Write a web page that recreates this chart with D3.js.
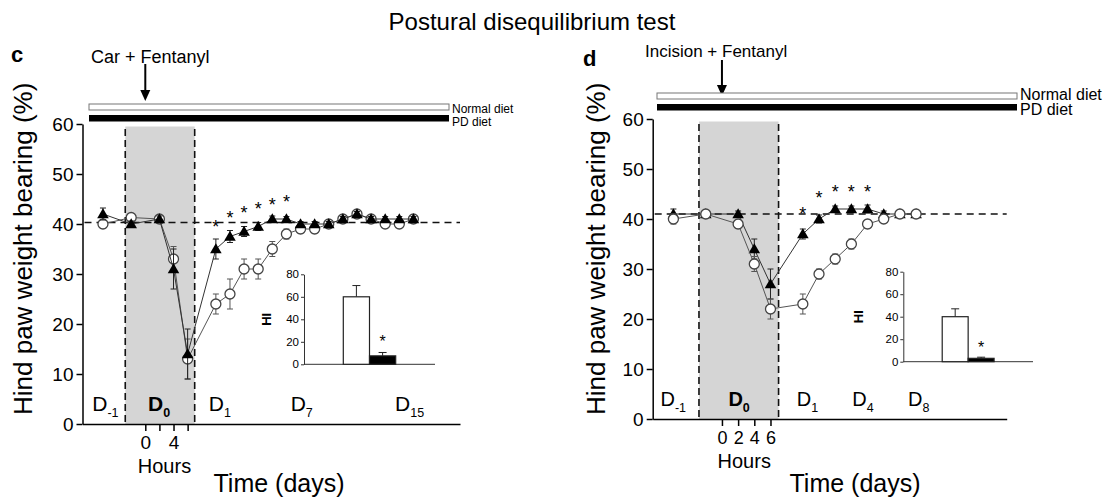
<!DOCTYPE html>
<meta charset="utf-8">
<head>
<script src="https://d3js.org/d3.v7.min.js"></script>
<style>
body { margin: 0; background: #fff; }
text { font-family: "Liberation Sans", Arial, sans-serif; }
</style>
</head>
<body>
<script>
// x positions are in 2-hour steps: D-1 = -3, pre-op = -1, hours 0..6 = 0..3, then days = 5, 6, ...
const hourTicks = [0, 1, 2, 3];

// panel c : Car + Fentanyl
const posC = [-3, -1, 1, 2, 3, 5, 6, 7, 8, 9, 10, 11, 12, 13, 14, 15, 16, 17, 18, 19];
const normalC = [40, 41.3, 41, 33, 13, 24, 26, 31, 31, 35, 38, 39, 39, 40, 41, 42, 41, 40, 40, 41];
const normalErrC = [0.8, 0.8, 0.5, 2.5, 4, 2, 3, 2, 2, 1.5, 1, 0.8, 0.8, 0.5, 0.5, 0.6, 0.5, 0.5, 0.5, 0.5];
const pdC = [42, 40, 41, 31, 14, 35, 37.5, 38.5, 39.5, 41, 41, 40, 40, 40, 41, 42, 41, 41, 41, 41];
const pdErrC = [1.2, 0.6, 0.6, 4, 5, 2, 1.2, 1, 0.8, 0.6, 0.5, 0.5, 0.5, 0.5, 0.5, 0.5, 0.5, 0.5, 0.5, 0.5];
const starPosC = [5, 6, 7, 8, 9, 10];
const starValC = [40.3, 42.1, 43, 43.8, 44.7, 45.3];
const dayLabelsC = ["-1", "0", "1", "7", "15"];
const dayPosC = [-3.76, 0.2, 4.5, 10.3, 17.7];
const hourLabelsC = ["0", "", "4", ""];
const refC = 40.3;
const hiC = [60, 7.5];
const hiErrC = [10, 3];
const hiStarC = 23;

// panel d : Incision + Fentanyl
const posD = [-3, -1, 1, 2, 3, 5, 6, 7, 8, 9, 10, 11, 12];
const normalD = [40, 41, 39, 31, 22, 23, 29, 32, 35, 39, 40, 41, 41];
const normalErrD = [1, 0.6, 0.8, 1.5, 2, 2, 1, 1, 1, 0.8, 0.6, 0.5, 0.5];
const pdD = [41, 41, 41, 34, 27, 37, 40, 42, 42, 42, 41, 41, 41];
const pdErrD = [1, 0.5, 0.6, 2, 3, 1, 0.8, 0.6, 0.6, 0.8, 0.6, 0.5, 0.5];
const starPosD = [5, 6, 7, 8, 9];
const starValD = [41.9, 45, 46.3, 46.3, 46.3];
const dayLabelsD = ["-1", "0", "1", "4", "8"];
const dayPosD = [-3.8, 0.4, 4.63, 8.06, 11.5];
const hourLabelsD = ["0", "2", "4", "6"];
const refD = 41;
const hiD = [40, 3];
const hiErrD = [7, 1];
const hiStarD = 16;

const yTicks = [0, 10, 20, 30, 40, 50, 60];
const hiTicks = [0, 20, 40, 60, 80];
const shade = [-1.42, 3.5];

const svg = d3.select("body").append("svg")
  .attr("width", 1109).attr("height", 500);

svg.append("text")
  .attr("x", 532).attr("y", 30)
  .attr("text-anchor", "middle")
  .attr("font-size", 24)
  .text("Postural disequilibrium test");

function drawPanel(p) {
  const g = svg.append("g");
  const x = d3.scaleLinear().domain(p.xDomain).range([p.left, p.right]);
  const y = d3.scaleLinear().domain([0, 60]).range([p.bottom, p.top]);

  // panel letter + treatment label + arrow
  g.append("text").attr("x", p.letterX).attr("y", p.letterY)
    .attr("font-size", 22).attr("font-weight", "bold").text(p.letter);
  g.append("text").attr("x", p.labelX).attr("y", p.labelY)
    .attr("font-size", p.labelSize).text(p.label);
  g.append("line")
    .attr("x1", x(0)).attr("x2", x(0))
    .attr("y1", p.arrowTop).attr("y2", p.arrowBottom - 8)
    .attr("stroke", "#000").attr("stroke-width", 2);
  g.append("path")
    .attr("d", `M${x(0) - 5},${p.arrowBottom - 11}L${x(0) + 5},${p.arrowBottom - 11}L${x(0)},${p.arrowBottom}Z`)
    .attr("fill", "#000");

  // diet bars
  g.append("rect").attr("x", p.barX0).attr("y", p.barY)
    .attr("width", p.barX1 - p.barX0).attr("height", 6)
    .attr("fill", "#fff").attr("stroke", "#777").attr("stroke-width", 1);
  g.append("rect").attr("x", p.barX0).attr("y", p.barY + 11)
    .attr("width", p.barX1 - p.barX0).attr("height", 6.5)
    .attr("fill", "#000");
  g.append("text").attr("x", p.barX1 + 3).attr("y", p.barY + p.dietDy[0])
    .attr("font-size", p.dietSize).text("Normal diet");
  g.append("text").attr("x", p.barX1 + 3).attr("y", p.barY + p.dietDy[1])
    .attr("font-size", p.dietSize).text("PD diet");

  // shaded D0
  g.append("rect")
    .attr("x", x(shade[0])).attr("y", y(59.5))
    .attr("width", x(shade[1]) - x(shade[0]))
    .attr("height", y(0) - y(59.5))
    .attr("fill", "#d5d5d5");
  shade.forEach(s => g.append("line")
    .attr("x1", x(s)).attr("x2", x(s))
    .attr("y1", y(59)).attr("y2", y(0))
    .attr("stroke", "#111").attr("stroke-width", 1.6)
    .attr("stroke-dasharray", "7,4"));

  // baseline reference
  g.append("line")
    .attr("x1", p.left + 2).attr("x2", p.right)
    .attr("y1", y(p.ref)).attr("y2", y(p.ref))
    .attr("stroke", "#111").attr("stroke-width", 1.3)
    .attr("stroke-dasharray", "7,5");

  // axes
  const ya = g.append("g")
    .attr("transform", `translate(${p.left},0)`)
    .call(d3.axisLeft(y).tickValues(yTicks).tickSize(6).tickSizeOuter(0).tickPadding(3));
  ya.attr("font-family", null).attr("font-size", 19);
  ya.selectAll("path,line").attr("stroke-width", 1.5);

  const xa = g.append("g")
    .attr("transform", `translate(0,${p.bottom})`)
    .call(d3.axisBottom(x).tickValues(hourTicks).tickSize(7).tickSizeOuter(0).tickPadding(5)
      .tickFormat((d, i) => p.hourLabels[i]));
  xa.attr("font-family", null).attr("font-size", p.hourSize);
  xa.selectAll("path,line").attr("stroke-width", 1.5);

  g.append("text").attr("x", x(1.5) - 2).attr("y", p.bottom + 49)
    .attr("text-anchor", "middle").attr("font-size", 20).text("Hours");
  g.append("text").attr("x", p.timeX).attr("y", 492)
    .attr("text-anchor", "middle").attr("font-size", 25).text("Time (days)");
  g.append("text")
    .attr("transform", `translate(${p.yTitleX},${p.yTitleY}) rotate(-90)`)
    .attr("font-size", 26).text("Hind paw weight bearing (%)");

  // day labels
  p.dayLabels.forEach((d, i) => {
    const t = g.append("text").attr("x", x(p.dayPos[i])).attr("y", p.bottom - 13)
      .attr("font-size", p.dSize).attr("font-weight", d === "0" ? "bold" : null);
    t.append("tspan").text("D");
    t.append("tspan").attr("dy", 6).attr("font-size", 12.5).text(d);
  });

  // series
  const norm = p.pos.map((v, i) => ({pos: v, v: p.normal[i], e: p.normalErr[i]}));
  const pd = p.pos.map((v, i) => ({pos: v, v: p.pd[i], e: p.pdErr[i]}));
  const line = d3.line().x(d => x(d.pos)).y(d => y(d.v));

  function errBars(data, color) {
    const eg = g.append("g").attr("stroke", color).attr("stroke-width", 1);
    eg.append("g").selectAll("line").data(data).join("line")
      .attr("x1", d => x(d.pos)).attr("x2", d => x(d.pos))
      .attr("y1", d => y(d.v - d.e)).attr("y2", d => y(d.v + d.e));
    eg.append("g").selectAll("line").data(data).join("line")
      .attr("x1", d => x(d.pos) - 3).attr("x2", d => x(d.pos) + 3)
      .attr("y1", d => y(d.v + d.e)).attr("y2", d => y(d.v + d.e));
    eg.append("g").selectAll("line").data(data).join("line")
      .attr("x1", d => x(d.pos) - 3).attr("x2", d => x(d.pos) + 3)
      .attr("y1", d => y(d.v - d.e)).attr("y2", d => y(d.v - d.e));
  }
  function drawNormal() {
    errBars(norm, "#555");
    g.append("path").datum(norm).attr("d", line)
      .attr("fill", "none").attr("stroke", "#555").attr("stroke-width", 1);
    g.append("g").selectAll("circle").data(norm).join("circle")
      .attr("cx", d => x(d.pos)).attr("cy", d => y(d.v)).attr("r", 5)
      .attr("fill", "#fff").attr("stroke", "#444").attr("stroke-width", 1.3);
  }
  function drawPd() {
    errBars(pd, "#222");
    g.append("path").datum(pd).attr("d", line)
      .attr("fill", "none").attr("stroke", "#333").attr("stroke-width", 1);
    g.append("g").selectAll("path").data(pd).join("path")
      .attr("transform", d => `translate(${x(d.pos)},${y(d.v) + 1})`)
      .attr("d", d3.symbol().type(d3.symbolTriangle).size(58))
      .attr("fill", "#000");
  }
  if (p.circlesOnTop) { drawPd(); drawNormal(); } else { drawNormal(); drawPd(); }

  // significance stars
  g.append("g").selectAll("text").data(p.starPos).join("text")
    .attr("x", d => x(d)).attr("y", (d, i) => y(p.starVal[i]) + 10)
    .attr("text-anchor", "middle").attr("font-size", 18).text("*");

  // inset HI bar chart
  const ix = d3.scaleLinear().domain([0, 5]).range([p.inLeft, p.inRight]);
  const iy = d3.scaleLinear().domain([0, 80]).range([p.inBottom, p.inBottom - 90]);
  const ia = g.append("g")
    .attr("transform", `translate(${p.inLeft},0)`)
    .call(d3.axisLeft(iy).tickValues(hiTicks).tickSize(3).tickSizeOuter(0).tickPadding(2));
  ia.attr("font-family", null).attr("font-size", 11.5);
  ia.selectAll("path,line").attr("stroke", "#333");
  g.append("line").attr("x1", p.inLeft).attr("x2", p.inRight)
    .attr("y1", iy(0)).attr("y2", iy(0)).attr("stroke", "#333");
  p.hi.forEach((v, i) => {
    const x0 = ix(1.5 + i), x1 = ix(2.5 + i), xc = (x0 + x1) / 2;
    g.append("line").attr("x1", xc).attr("x2", xc)
      .attr("y1", iy(v)).attr("y2", iy(v + p.hiErr[i])).attr("stroke", "#222");
    g.append("line").attr("x1", xc - 4).attr("x2", xc + 4)
      .attr("y1", iy(v + p.hiErr[i])).attr("y2", iy(v + p.hiErr[i])).attr("stroke", "#222");
    g.append("rect").attr("x", x0).attr("y", iy(v))
      .attr("width", x1 - x0).attr("height", iy(0) - iy(v))
      .attr("fill", i === 0 ? "#fff" : "#000").attr("stroke", "#222").attr("stroke-width", 1.2);
  });
  g.append("text").attr("x", ix(3)).attr("y", iy(p.hiStar) + 9)
    .attr("text-anchor", "middle").attr("font-size", 16).text("*");
  g.append("text")
    .attr("transform", `translate(${p.hiX},${iy(40)}) rotate(-90)`)
    .attr("text-anchor", "middle").attr("font-size", 13).attr("font-weight", "bold")
    .text("HI");
}

drawPanel({
  letter: "c", letterX: 11, letterY: 62,
  label: "Car + Fentanyl", labelX: 91, labelY: 63, labelSize: 18,
  arrowTop: 64, arrowBottom: 101,
  barX0: 89, barX1: 449, barY: 104, dietDy: [8.5, 22], dietSize: 12,
  left: 82.5, right: 460, top: 124, bottom: 424, xDomain: [-4.45, 22.3],
  ref: refC, hourLabels: hourLabelsC, hourSize: 19,
  timeX: 279, yTitleX: 32, yTitleY: 415,
  dayLabels: dayLabelsC, dayPos: dayPosC, dSize: 21,
  pos: posC, normal: normalC, normalErr: normalErrC, pd: pdC, pdErr: pdErrC,
  circlesOnTop: false, starPos: starPosC, starVal: starValC,
  inLeft: 304, inRight: 435, inBottom: 364.3, hi: hiC, hiErr: hiErrC, hiStar: hiStarC, hiX: 271
});

drawPanel({
  letter: "d", letterX: 583, letterY: 66,
  label: "Incision + Fentanyl", labelX: 645, labelY: 57, labelSize: 17,
  arrowTop: 60, arrowBottom: 96,
  barX0: 657, barX1: 1017, barY: 93, dietDy: [6.5, 22], dietSize: 16,
  left: 652.7, right: 1006.7, top: 119, bottom: 419, xDomain: [-4.28, 17.6],
  ref: refD, hourLabels: hourLabelsD, hourSize: 18,
  timeX: 855, yTitleX: 605, yTitleY: 415,
  dayLabels: dayLabelsD, dayPos: dayPosD, dSize: 20,
  pos: posD, normal: normalD, normalErr: normalErrD, pd: pdD, pdErr: pdErrD,
  circlesOnTop: true, starPos: starPosD, starVal: starValD,
  inLeft: 903.3, inRight: 1033, inBottom: 361.7, hi: hiD, hiErr: hiErrD, hiStar: hiStarD, hiX: 863
});
</script>
</body>
